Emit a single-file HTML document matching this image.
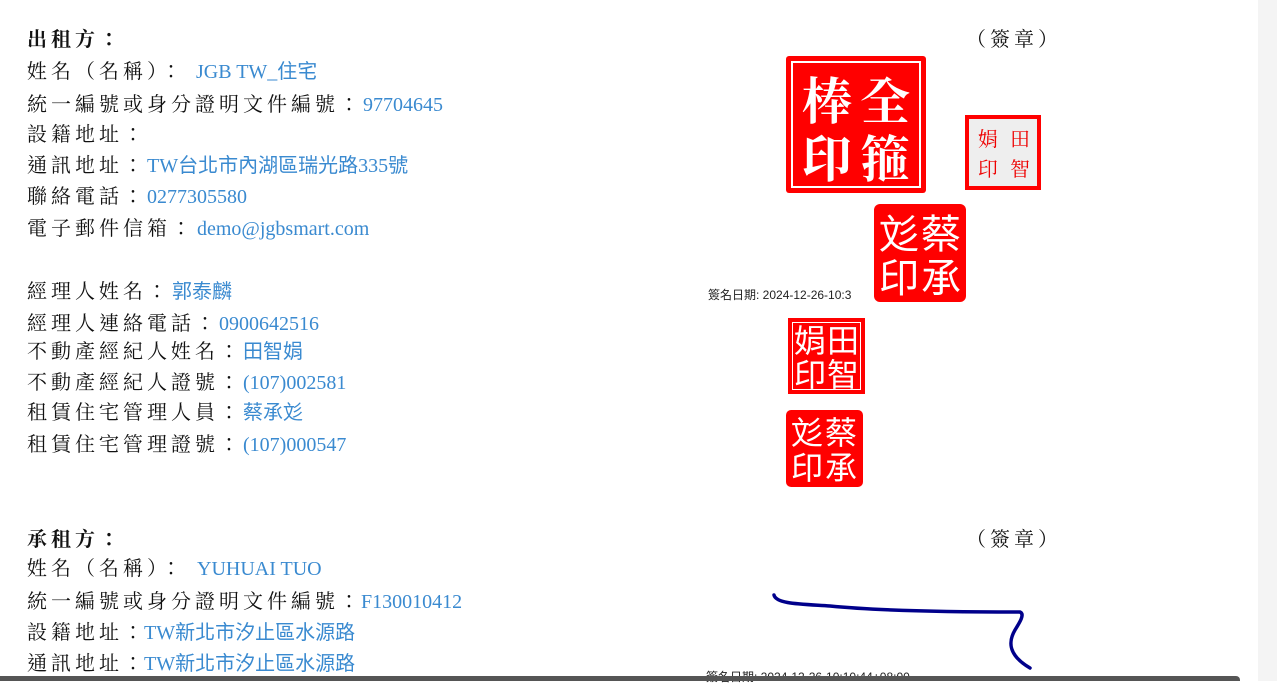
<!DOCTYPE html>
<html><head><meta charset="utf-8"><style>
body{margin:0;width:1277px;height:681px;overflow:hidden;background:#fff;position:relative}
.l{position:absolute;left:27px;height:30px;line-height:30px;font:20px "Liberation Serif","Noto Serif CJK TC",serif;letter-spacing:4px;color:#111;white-space:nowrap}
.b{font-weight:bold}
.v{font:20px "Liberation Serif","Noto Sans CJK TC",sans-serif;letter-spacing:0;color:#3a8ad0}
.seal{position:absolute;background:#f00;color:#fff;font-family:"Noto Serif CJK TC",serif;box-sizing:border-box}
.sc{position:absolute;text-align:center}
.d{position:absolute;font:12px "Liberation Sans","Noto Sans CJK TC",sans-serif;color:#222;white-space:nowrap}
</style></head><body>
<div style="position:absolute;left:1258px;top:0;width:19px;height:681px;background:#f4f4f4"></div>

<div class="l b" style="top:23px">出租方：</div>
<div class="l" style="top:55px">姓名（名稱）：<span class="v" style="margin-left:11px">JGB TW_住宅</span></div>
<div class="l" style="top:88px">統一編號或身分證明文件編號：<span class="v">97704645</span></div>
<div class="l" style="top:118px">設籍地址：</div>
<div class="l" style="top:149px">通訊地址：<span class="v">TW台北市內湖區瑞光路335號</span></div>
<div class="l" style="top:180px">聯絡電話：<span class="v">0277305580</span></div>
<div class="l" style="top:212px">電子郵件信箱：<span class="v" style="margin-left:2px">demo@jgbsmart.com</span></div>

<div class="l" style="top:275px">經理人姓名：<span class="v" style="margin-left:1px">郭泰麟</span></div>
<div class="l" style="top:307px">經理人連絡電話：<span class="v">0900642516</span></div>
<div class="l" style="top:335px">不動產經紀人姓名：<span class="v">田智娟</span></div>
<div class="l" style="top:366px">不動產經紀人證號：<span class="v">(107)002581</span></div>
<div class="l" style="top:396px">租賃住宅管理人員：<span class="v">蔡承彣</span></div>
<div class="l" style="top:428px">租賃住宅管理證號：<span class="v">(107)000547</span></div>

<div class="l b" style="top:523px">承租方：</div>
<div class="l" style="top:552px">姓名（名稱）：<span class="v" style="margin-left:12px">YUHUAI TUO</span></div>
<div class="l" style="top:585px">統一編號或身分證明文件編號：<span class="v" style="margin-left:-2px">F130010412</span></div>
<div class="l" style="top:616px">設籍地址：<span class="v" style="margin-left:-3px">TW新北市汐止區水源路</span></div>
<div class="l" style="top:647px">通訊地址：<span class="v" style="margin-left:-3px">TW新北市汐止區水源路</span></div>

<div class="l" style="left:966px;top:23px">（簽章）</div>
<div class="l" style="left:966px;top:523px">（簽章）</div>

<!-- seal 1 -->
<div class="seal" style="left:786px;top:56px;width:140px;height:137px;border-radius:3px">
 <div style="position:absolute;left:5px;top:5px;right:5px;bottom:5px;border:2px solid #fff"></div>
 <div class="sc" style="left:70px;top:14px;width:58px;font-size:50px;line-height:56px;font-weight:bold">全</div>
 <div class="sc" style="left:70px;top:72px;width:58px;font-size:50px;line-height:56px;font-weight:bold">箍</div>
 <div class="sc" style="left:12px;top:14px;width:58px;font-size:50px;line-height:56px;font-weight:bold">棒</div>
 <div class="sc" style="left:12px;top:72px;width:58px;font-size:50px;line-height:56px;font-weight:bold">印</div>
</div>
<!-- seal 2 -->
<div class="seal" style="left:965px;top:115px;width:76px;height:75px;background:#eee;border:4px solid #f00;color:#e00">
 <div class="sc" style="left:36px;top:4px;width:30px;font-size:20px;line-height:30px">田</div>
 <div class="sc" style="left:36px;top:34px;width:30px;font-size:20px;line-height:30px">智</div>
 <div class="sc" style="left:4px;top:4px;width:30px;font-size:20px;line-height:30px">娟</div>
 <div class="sc" style="left:4px;top:34px;width:30px;font-size:20px;line-height:30px">印</div>
</div>
<div class="d" style="left:708px;top:286px">簽名日期: 2024-12-26-10:3</div>
<!-- seal 3 -->
<div class="seal" style="left:874px;top:204px;width:92px;height:98px;border-radius:6px;font-family:'Noto Sans CJK TC',sans-serif">
 <div class="sc" style="left:46px;top:4px;width:42px;font-size:40px;line-height:46px">蔡</div>
 <div class="sc" style="left:46px;top:48px;width:42px;font-size:40px;line-height:46px">承</div>
 <div class="sc" style="left:4px;top:4px;width:42px;font-size:40px;line-height:46px">彣</div>
 <div class="sc" style="left:4px;top:48px;width:42px;font-size:40px;line-height:46px">印</div>
</div>
<!-- seal 4 -->
<div class="seal" style="left:788px;top:318px;width:77px;height:76px;font-family:'Noto Sans CJK TC',sans-serif">
 <div style="position:absolute;left:4px;top:4px;right:4px;bottom:4px;border:1px solid #fff"></div>
 <div class="sc" style="left:38px;top:4px;width:34px;font-size:32px;line-height:34px">田</div>
 <div class="sc" style="left:38px;top:38px;width:34px;font-size:32px;line-height:34px">智</div>
 <div class="sc" style="left:5px;top:4px;width:34px;font-size:32px;line-height:34px">娟</div>
 <div class="sc" style="left:5px;top:38px;width:34px;font-size:32px;line-height:34px">印</div>
</div>
<!-- seal 5 -->
<div class="seal" style="left:786px;top:410px;width:77px;height:77px;border-radius:5px;font-family:'Noto Sans CJK TC',sans-serif">
 <div class="sc" style="left:38px;top:3px;width:34px;font-size:32px;line-height:36px">蔡</div>
 <div class="sc" style="left:38px;top:38px;width:34px;font-size:32px;line-height:36px">承</div>
 <div class="sc" style="left:4px;top:3px;width:34px;font-size:32px;line-height:36px">彣</div>
 <div class="sc" style="left:4px;top:38px;width:34px;font-size:32px;line-height:36px">印</div>
</div>

<svg style="position:absolute;left:0;top:0" width="1277" height="681">
<path d="M774,595 C776,604 800,604 830,606 C880,611 960,612 1020,612 C1025,614 1020,622 1015,630 C1008,642 1008,655 1030,668" fill="none" stroke="#00008b" stroke-width="3.5" stroke-linecap="round"/>
</svg>
<div class="d" style="left:706px;top:668px">簽名日期: 2024-12-26-10:10:44+08:00</div>
<div style="position:absolute;left:0;top:676px;width:1240px;height:5px;background:#555;border-radius:0 4px 0 0"></div>
</body></html>
